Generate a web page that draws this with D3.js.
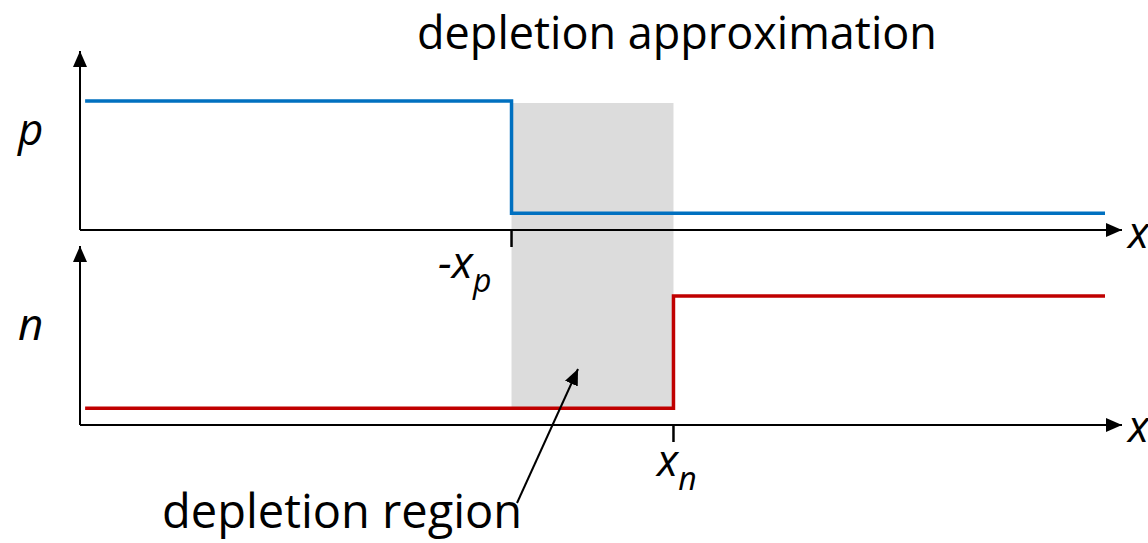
<!DOCTYPE html>
<html>
<head>
<meta charset="utf-8">
<script src="https://cdn.jsdelivr.net/npm/d3@7"></script>
<style>
  body { margin: 0; background: #fff; }
  text { font-family: "Open Sans", "Liberation Sans", sans-serif; fill: #000; }
</style>
</head>
<body>
<div id="chart"></div>
<script>
// step positions along x (arbitrary units) and normalized concentrations
const xDomain = [0, 10];
const xJunction = { p: 4.21, n: 5.79 };   // -xp and xn
const pProfile = [[0.05, 1], [4.21, 1], [4.21, 0.13], [10, 0.13]];
const nProfile = [[0.05, 0.13], [5.79, 0.13], [5.79, 1], [10, 1]];
const tickLabels = [{ main: "-x", sub: "p" }, { main: "x", sub: "n" }];

const width = 1148, height = 543;

const svg = d3.select("#chart").append("svg")
  .attr("width", width)
  .attr("height", height);

const defs = svg.append("defs");
defs.append("marker")
  .attr("id", "arrow")
  .attr("viewBox", "0 0 16 14")
  .attr("refX", 16).attr("refY", 7)
  .attr("markerWidth", 16).attr("markerHeight", 14)
  .attr("markerUnits", "userSpaceOnUse")
  .attr("orient", "auto")
  .append("path")
  .attr("d", "M0,0L16,7L0,14Z")
  .attr("fill", "#000");

const x = d3.scaleLinear().domain(xDomain).range([80, 1105]);
const yTop = d3.scaleLinear().domain([0, 1]).range([230, 101]);
const yBot = d3.scaleLinear().domain([0, 1]).range([425, 296]);

// depletion region shading
svg.append("rect")
  .attr("x", x(xJunction.p))
  .attr("y", yTop(1) + 2)
  .attr("width", x(xJunction.n) - x(xJunction.p))
  .attr("height", yBot(0.13) - yTop(1) - 2)
  .attr("fill", "#dcdcdc");

// axes
function drawAxes(y) {
  svg.append("line")
    .attr("x1", x(0)).attr("y1", y(0))
    .attr("x2", 1122).attr("y2", y(0))
    .attr("stroke", "#000").attr("stroke-width", 2)
    .attr("marker-end", "url(#arrow)");
  svg.append("line")
    .attr("x1", x(0)).attr("y1", y(0))
    .attr("x2", x(0)).attr("y2", y(1) - 50)
    .attr("stroke", "#000").attr("stroke-width", 2)
    .attr("marker-end", "url(#arrow)");
}
drawAxes(yTop);
drawAxes(yBot);

// profiles
const line = y => d3.line().x(d => x(d[0])).y(d => y(d[1]));
svg.append("path")
  .datum(pProfile)
  .attr("d", line(yTop))
  .attr("fill", "none")
  .attr("stroke", "#0070c0")
  .attr("stroke-width", 3.5);
svg.append("path")
  .datum(nProfile)
  .attr("d", line(yBot))
  .attr("fill", "none")
  .attr("stroke", "#c00000")
  .attr("stroke-width", 3.5);

// ticks + labels
[[xJunction.p, yTop, 438, 278], [xJunction.n, yBot, 657, 476]].forEach(([xv, y, lx, ly], i) => {
  svg.append("line")
    .attr("x1", x(xv)).attr("y1", y(0))
    .attr("x2", x(xv)).attr("y2", y(0) + 17)
    .attr("stroke", "#000").attr("stroke-width", 2.5);
  const t = svg.append("text")
    .attr("x", lx).attr("y", ly)
    .attr("font-size", 44)
    .attr("font-style", "italic");
  t.append("tspan").text(tickLabels[i].main);
  t.append("tspan").attr("dy", 14).attr("font-size", 32).text(tickLabels[i].sub);
});

// axis labels
const italic = (tx, ty, s) => svg.append("text")
  .attr("x", tx).attr("y", ty)
  .attr("font-size", 44)
  .attr("font-style", "italic")
  .text(s);
italic(18, 145, "p");
italic(18, 340, "n");
italic(1128, 248, "x");
italic(1128, 442, "x");

// title
svg.append("text")
  .attr("x", 677).attr("y", 49)
  .attr("text-anchor", "middle")
  .attr("font-size", 45)
  .text("depletion approximation");

// annotation
svg.append("line")
  .attr("x1", 517).attr("y1", 503)
  .attr("x2", 578).attr("y2", 369)
  .attr("stroke", "#000").attr("stroke-width", 2)
  .attr("marker-end", "url(#arrow)");
svg.append("text")
  .attr("x", 162).attr("y", 528)
  .attr("font-size", 47)
  .text("depletion region");
</script>
</body>
</html>
